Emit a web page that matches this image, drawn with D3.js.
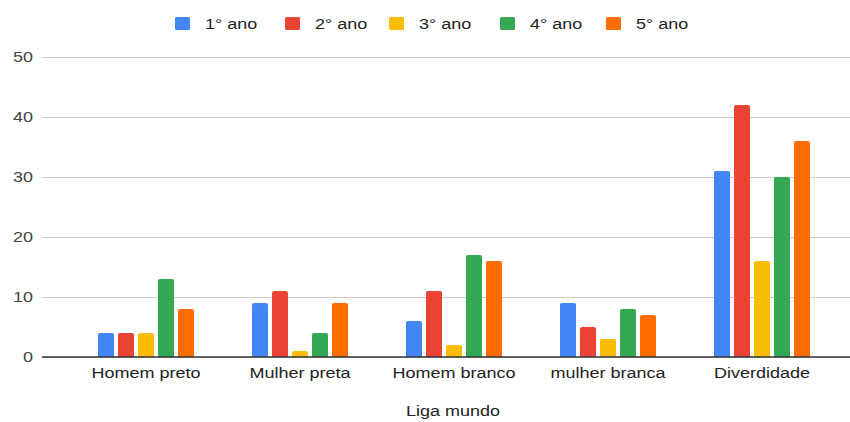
<!DOCTYPE html>
<html>
<head>
<meta charset="utf-8">
<script src="https://cdn.jsdelivr.net/npm/d3@7"></script>
<style>
  html, body { margin: 0; padding: 0; background: #fff; }
  svg { display: block; font-family: "Liberation Sans", Arial, sans-serif; }
</style>
</head>
<body>
<svg id="chart" width="850" height="422"></svg>
<script>
// Categories and per-year counts
const categories = ["Homem preto", "Mulher preta", "Homem branco", "mulher branca", "Diverdidade"];
const seriesNames = ["1° ano", "2° ano", "3° ano", "4° ano", "5° ano"];
const seriesColors = ["#4285f4", "#ea4335", "#fbbc04", "#34a853", "#ff6d01"];
const ano1 = [4, 9, 6, 9, 31];
const ano2 = [4, 11, 11, 5, 42];
const ano3 = [4, 1, 2, 3, 16];
const ano4 = [13, 4, 17, 8, 30];
const ano5 = [8, 9, 16, 7, 36];
const yTicks = [0, 10, 20, 30, 40, 50];
const xTitle = "Liga mundo";

const seriesValues = [ano1, ano2, ano3, ano4, ano5];

// Text is drawn slightly widened
const SX = 1.2;
function widen(sel) {
  sel.each(function () {
    const t = d3.select(this);
    const xv = +(t.attr("x") || 0);
    t.attr("x", xv / SX).attr("transform", `scale(${SX},1)`);
  });
}

const svg = d3.select("#chart");
const gridLeft = 42, gridRight = 850;
const plotTop = 57, plotBottom = 357;

const y = d3.scaleLinear().domain([0, 50]).range([plotBottom, plotTop]);
const x0 = d3.scaleBand().domain(categories).range([69, 839]);
const x1 = d3.scaleBand().domain(seriesNames).range([0, 96]).paddingInner(0.2);

// Gridlines and tick labels
const yAxis = d3.axisLeft(y).tickValues(yTicks).tickSize(-(gridRight - gridLeft)).tickPadding(9);
const gy = svg.append("g").attr("transform", `translate(${gridLeft},0)`).call(yAxis);
gy.select(".domain").remove();
gy.selectAll(".tick line").attr("stroke", "#cccccc").attr("stroke-width", 1);
gy.selectAll(".tick text").attr("fill", "#444").attr("font-size", 15).call(widen);

// Bars with slightly rounded tops
function barPath(xp, w, yTop, yBase, r) {
  const h = yBase - yTop;
  const rr = Math.min(r, h / 2, w / 2);
  return `M${xp},${yBase}V${yTop + rr}Q${xp},${yTop} ${xp + rr},${yTop}` +
         `H${xp + w - rr}Q${xp + w},${yTop} ${xp + w},${yTop + rr}V${yBase}Z`;
}

const groups = svg.append("g").selectAll("g")
  .data(categories)
  .join("g")
  .attr("transform", d => `translate(${x0(d) + (x0.bandwidth() - 96) / 2},0)`);

groups.selectAll("path")
  .data((c, ci) => seriesNames.map((s, si) => ({ s, si, v: seriesValues[si][ci] })))
  .join("path")
  .attr("d", d => barPath(x1(d.s), x1.bandwidth(), y(d.v), y(0), 2))
  .attr("fill", d => seriesColors[d.si]);

// Baseline
svg.append("line")
  .attr("x1", gridLeft).attr("x2", gridRight)
  .attr("y1", y(0)).attr("y2", y(0))
  .attr("stroke", "#333").attr("stroke-width", 1.5);

// Category labels
const xAxis = d3.axisBottom(x0).tickSize(0).tickPadding(10);
const gx = svg.append("g").attr("transform", `translate(0,${y(0)})`).call(xAxis);
gx.select(".domain").remove();
gx.selectAll(".tick text").attr("fill", "#222").attr("font-size", 15).call(widen);

// Axis title
svg.append("g").attr("transform", "translate(453,416)")
  .append("text")
  .attr("text-anchor", "middle")
  .attr("fill", "#222").attr("font-size", 15)
  .text(xTitle)
  .call(widen);

// Legend
const legendX = [175, 285, 389, 500, 606];
const legend = svg.append("g").selectAll("g")
  .data(seriesNames)
  .join("g")
  .attr("transform", (d, i) => `translate(${legendX[i]},17)`);
legend.append("rect")
  .attr("width", 15).attr("height", 13).attr("rx", 1.5)
  .attr("fill", (d, i) => seriesColors[i]);
legend.append("text")
  .attr("x", 30).attr("y", 12)
  .attr("fill", "#222").attr("font-size", 15)
  .text(d => d)
  .call(widen);
</script>
</body>
</html>
